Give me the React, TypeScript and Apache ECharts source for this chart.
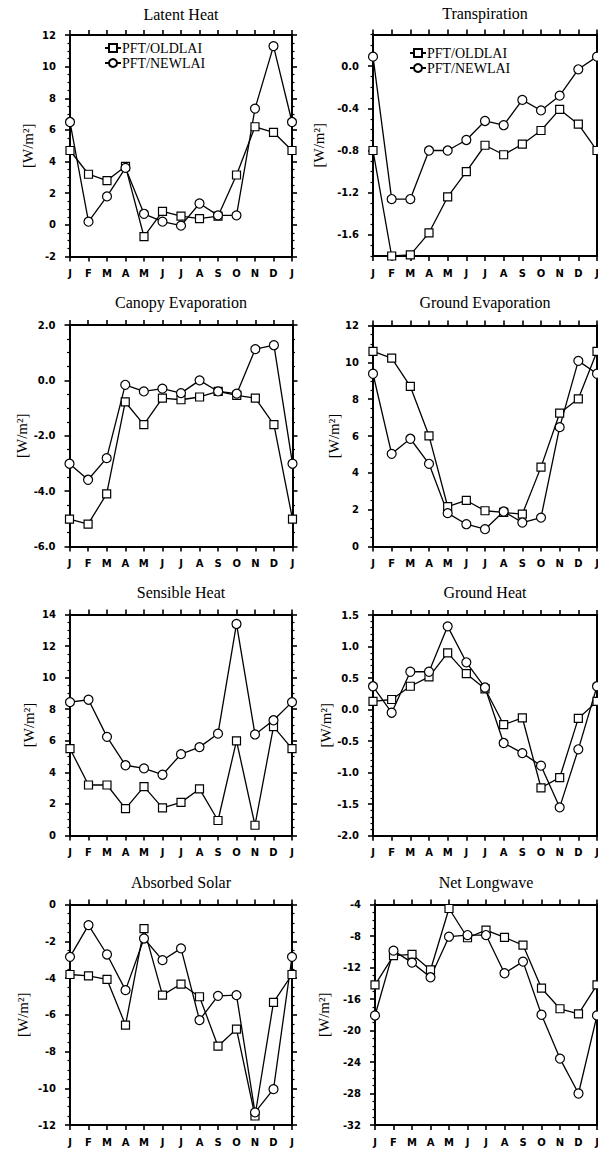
import React, { useEffect, useRef } from "react";
import * as echarts from "echarts";

const months = ["J", "F", "M", "A", "M", "J", "J", "A", "S", "O", "N", "D", "J"];
const nameOld = "PFT/OLDLAI";
const nameNew = "PFT/NEWLAI";

const latentOld = [4.7, 3.2, 2.8, 3.7, -0.75, 0.85, 0.55, 0.4, 0.55, 3.15, 6.2, 5.85, 4.7];
const latentNew = [6.5, 0.2, 1.8, 3.6, 0.7, 0.2, -0.05, 1.35, 0.6, 0.6, 7.35, 11.3, 6.5];
const latentTicks = [-2, 0, 2, 4, 6, 8, 10, 12];

const transOld = [-0.8, -1.8, -1.79, -1.58, -1.24, -1.0, -0.75, -0.84, -0.74, -0.61, -0.41, -0.55, -0.8];
const transNew = [0.09, -1.26, -1.26, -0.8, -0.8, -0.7, -0.52, -0.56, -0.32, -0.42, -0.28, -0.03, 0.09];
const transTicks = [-1.6, -1.2, -0.8, -0.4, 0.0];

const canopyOld = [-5.01, -5.19, -4.1, -0.78, -1.6, -0.64, -0.7, -0.6, -0.4, -0.54, -0.64, -1.6, -5.01];
const canopyNew = [-3.01, -3.59, -2.81, -0.16, -0.4, -0.3, -0.46, 0.0, -0.4, -0.48, 1.13, 1.27, -3.01];
const canopyTicks = [-6, -4, -2, 0, 2];

const groundEvapOld = [10.59, 10.23, 8.69, 6.01, 2.17, 2.5, 1.94, 1.85, 1.76, 4.31, 7.24, 8.02, 10.59];
const groundEvapNew = [9.38, 5.03, 5.85, 4.49, 1.81, 1.21, 0.94, 1.9, 1.3, 1.57, 6.48, 10.08, 9.38];
const groundEvapTicks = [0, 2, 4, 6, 8, 10, 12];

const sensibleOld = [5.5, 3.2, 3.2, 1.7, 3.1, 1.75, 2.1, 2.95, 0.95, 6.0, 0.65, 6.9, 5.5];
const sensibleNew = [8.45, 8.6, 6.25, 4.45, 4.25, 3.85, 5.15, 5.6, 6.45, 13.4, 6.4, 7.3, 8.45];
const sensibleTicks = [0, 2, 4, 6, 8, 10, 12, 14];

const groundHeatOld = [0.13, 0.16, 0.37, 0.52, 0.9, 0.57, 0.33, -0.24, -0.13, -1.24, -1.08, -0.14, 0.13];
const groundHeatNew = [0.37, -0.05, 0.6, 0.6, 1.32, 0.75, 0.35, -0.53, -0.69, -0.89, -1.55, -0.63, 0.37];
const groundHeatTicks = [-2.0, -1.5, -1.0, -0.5, 0.0, 0.5, 1.0, 1.5];

const solarOld = [-3.81, -3.88, -4.08, -6.56, -1.31, -4.93, -4.33, -5.02, -7.71, -6.78, -11.51, -5.33, -3.81];
const solarNew = [-2.85, -1.12, -2.72, -4.66, -1.85, -3.03, -2.39, -6.29, -4.97, -4.93, -11.31, -10.05, -2.85];
const solarTicks = [-12, -10, -8, -6, -4, -2, 0];

const longwaveOld = [-14.21, -10.5, -10.33, -12.31, -4.51, -8.22, -7.25, -8.18, -9.15, -14.63, -17.24, -17.88, -14.21];
const longwaveNew = [-18.09, -9.86, -11.38, -13.24, -8.09, -7.88, -7.88, -12.73, -11.25, -18.0, -23.57, -28.0, -18.09];
const longwaveTicks = [-32, -28, -24, -20, -16, -12, -8, -4];

type Panel = {
  title: string;
  oldData: number[];
  newData: number[];
  ticks: number[];
  min: number;
  max: number;
  minorStep: number;
  decimals: number;
  left: number;
  top: number;
  width: number;
  height: number;
  titleY: number;
  nameGap: number;
  legend?: { left: number; top: number };
};

const panels: Panel[] = [
  { title: "Latent Heat", oldData: latentOld, newData: latentNew, ticks: latentTicks, min: -2, max: 12, minorStep: 0.5, decimals: 0, left: 70, top: 35, width: 222, height: 221.5, titleY: 15, nameGap: 35, legend: { left: 104, top: 41 } },
  { title: "Transpiration", oldData: transOld, newData: transNew, ticks: transTicks, min: -1.8, max: 0.3, minorStep: 0.1, decimals: 1, left: 373, top: 34.5, width: 224, height: 221.5, titleY: 14.5, nameGap: 47, legend: { left: 409, top: 46 } },
  { title: "Canopy Evaporation", oldData: canopyOld, newData: canopyNew, ticks: canopyTicks, min: -6, max: 2, minorStep: 0.5, decimals: 1, left: 69.5, top: 325, width: 223, height: 221.5, titleY: 303, nameGap: 38 },
  { title: "Ground Evaporation", oldData: groundEvapOld, newData: groundEvapNew, ticks: groundEvapTicks, min: 0, max: 12, minorStep: 0.5, decimals: 0, left: 373, top: 325.5, width: 224, height: 221, titleY: 303, nameGap: 32 },
  { title: "Sensible Heat", oldData: sensibleOld, newData: sensibleNew, ticks: sensibleTicks, min: 0, max: 14, minorStep: 0.5, decimals: 0, left: 70, top: 614.5, width: 222, height: 221, titleY: 593, nameGap: 34 },
  { title: "Ground Heat", oldData: groundHeatOld, newData: groundHeatNew, ticks: groundHeatTicks, min: -2, max: 1.5, minorStep: 0.1, decimals: 1, left: 373, top: 615, width: 224, height: 220.7, titleY: 593, nameGap: 40 },
  { title: "Absorbed Solar", oldData: solarOld, newData: solarNew, ticks: solarTicks, min: -12, max: 0, minorStep: 0.5, decimals: 0, left: 70, top: 904.5, width: 222, height: 220.5, titleY: 883, nameGap: 40 },
  { title: "Net Longwave", oldData: longwaveOld, newData: longwaveNew, ticks: longwaveTicks, min: -32, max: -4, minorStep: 1, decimals: 0, left: 375, top: 904.5, width: 222, height: 220.5, titleY: 883, nameGap: 44 },
];

const BLACK = "#000";
const AXIS_W = 2;
const labelFont = "DejaVu Sans";
const serif = "Liberation Serif";

function minorValues(p: Panel): number[] {
  const out: number[] = [];
  const n = Math.round((p.max - p.min) / p.minorStep);
  for (let k = 0; k <= n; k++) {
    const v = Math.round((p.min + k * p.minorStep) * 1000) / 1000;
    if (!p.ticks.some((t) => Math.abs(t - v) < 1e-6)) out.push(v);
  }
  return out;
}

function buildOption() {
  const grid: any[] = [];
  const xAxis: any[] = [];
  const yAxis: any[] = [];
  const series: any[] = [];
  const title: any[] = [];
  const legend: any[] = [];

  panels.forEach((p, i) => {
    grid.push({ left: p.left, top: p.top, width: p.width, height: p.height, containLabel: false, outerBoundsMode: "none" });
    title.push({
      text: p.title,
      left: p.left + p.width / 2,
      top: p.titleY - 9,
      textAlign: "center",
      padding: 0,
      textStyle: { fontFamily: serif, fontSize: 16, fontWeight: "normal", color: BLACK },
    });
    const xBase = {
      type: "category",
      gridIndex: i,
      data: months,
      boundaryGap: false,
      axisLine: { show: true, onZero: false, lineStyle: { color: BLACK, width: AXIS_W } },
      axisTick: { show: true, inside: false, length: 5, interval: 0, lineStyle: { color: BLACK, width: 1.6 } },
      splitLine: { show: false },
    };
    xAxis.push({
      ...xBase,
      position: "bottom",
      axisLabel: { show: true, interval: 0, margin: 12, fontFamily: labelFont, fontWeight: "bold", fontSize: 10, color: BLACK },
    });
    xAxis.push({ ...xBase, position: "top", axisLabel: { show: false } });

    const minors = minorValues(p);
    const yBase = {
      type: "value",
      gridIndex: i,
      min: p.min,
      max: p.max,
      splitLine: { show: false },
      axisLine: { show: true, onZero: false, lineStyle: { color: BLACK, width: AXIS_W } },
    };
    yAxis.push({
      ...yBase,
      position: "left",
      name: "[W/m²]",
      nameLocation: "middle",
      nameGap: p.nameGap,
      nameTextStyle: { fontFamily: serif, fontSize: 15, color: BLACK },
      axisTick: { show: true, inside: false, length: 5, customValues: p.ticks, lineStyle: { color: BLACK, width: 1.6 } },
      axisLabel: {
        show: true,
        customValues: p.ticks,
        margin: 14,
        fontFamily: labelFont,
        fontWeight: "bold",
        fontSize: 10,
        color: BLACK,
        formatter: (v: number) => Number(v).toFixed(p.decimals),
      },
    });
    yAxis.push({
      ...yBase,
      position: "left",
      axisTick: { show: true, inside: false, length: 2.5, customValues: minors, lineStyle: { color: BLACK, width: 1.2 } },
      axisLabel: { show: false },
    });
    yAxis.push({
      ...yBase,
      position: "right",
      axisTick: { show: true, inside: false, length: 5, customValues: p.ticks, lineStyle: { color: BLACK, width: 1.6 } },
      axisLabel: { show: false },
    });
    yAxis.push({
      ...yBase,
      position: "right",
      axisTick: { show: true, inside: false, length: 2.5, customValues: minors, lineStyle: { color: BLACK, width: 1.2 } },
      axisLabel: { show: false },
    });

    const common = {
      type: "line",
      xAxisIndex: 2 * i,
      yAxisIndex: 4 * i,
      showSymbol: true,
      clip: false,
      lineStyle: { color: BLACK, width: 1.3 },
      itemStyle: { color: "#fff", borderColor: BLACK, borderWidth: 1.2 },
      emphasis: { disabled: true },
      silent: true,
    };
    series.push({ ...common, name: nameOld, symbol: "rect", symbolSize: 8, data: p.oldData });
    series.push({ ...common, name: nameNew, symbol: "circle", symbolSize: 9, data: p.newData });

    if (p.legend) {
      legend.push({
        data: [nameOld, nameNew],
        orient: "vertical",
        left: p.legend.left,
        top: p.legend.top,
        padding: 0,
        itemGap: 1,
        itemWidth: 16,
        itemHeight: 10,
        selectedMode: false,
        textStyle: { fontFamily: serif, fontSize: 14, color: BLACK, padding: [0, 0, 0, -4] },
      });
    }
  });

  return {
    animation: false,
    backgroundColor: "#fff",
    title,
    legend,
    grid,
    xAxis,
    yAxis,
    series,
  };
}

export default function App() {
  const ref = useRef<HTMLDivElement | null>(null);
  useEffect(() => {
    if (!ref.current) return;
    const chart = echarts.init(ref.current, undefined, { renderer: "svg" });
    chart.setOption(buildOption() as any);
    return () => chart.dispose();
  }, []);
  return (
    <div
      ref={ref}
      style={{ position: "fixed", left: 0, top: 0, width: 598, height: 1150, background: "#fff" }}
    />
  );
}
